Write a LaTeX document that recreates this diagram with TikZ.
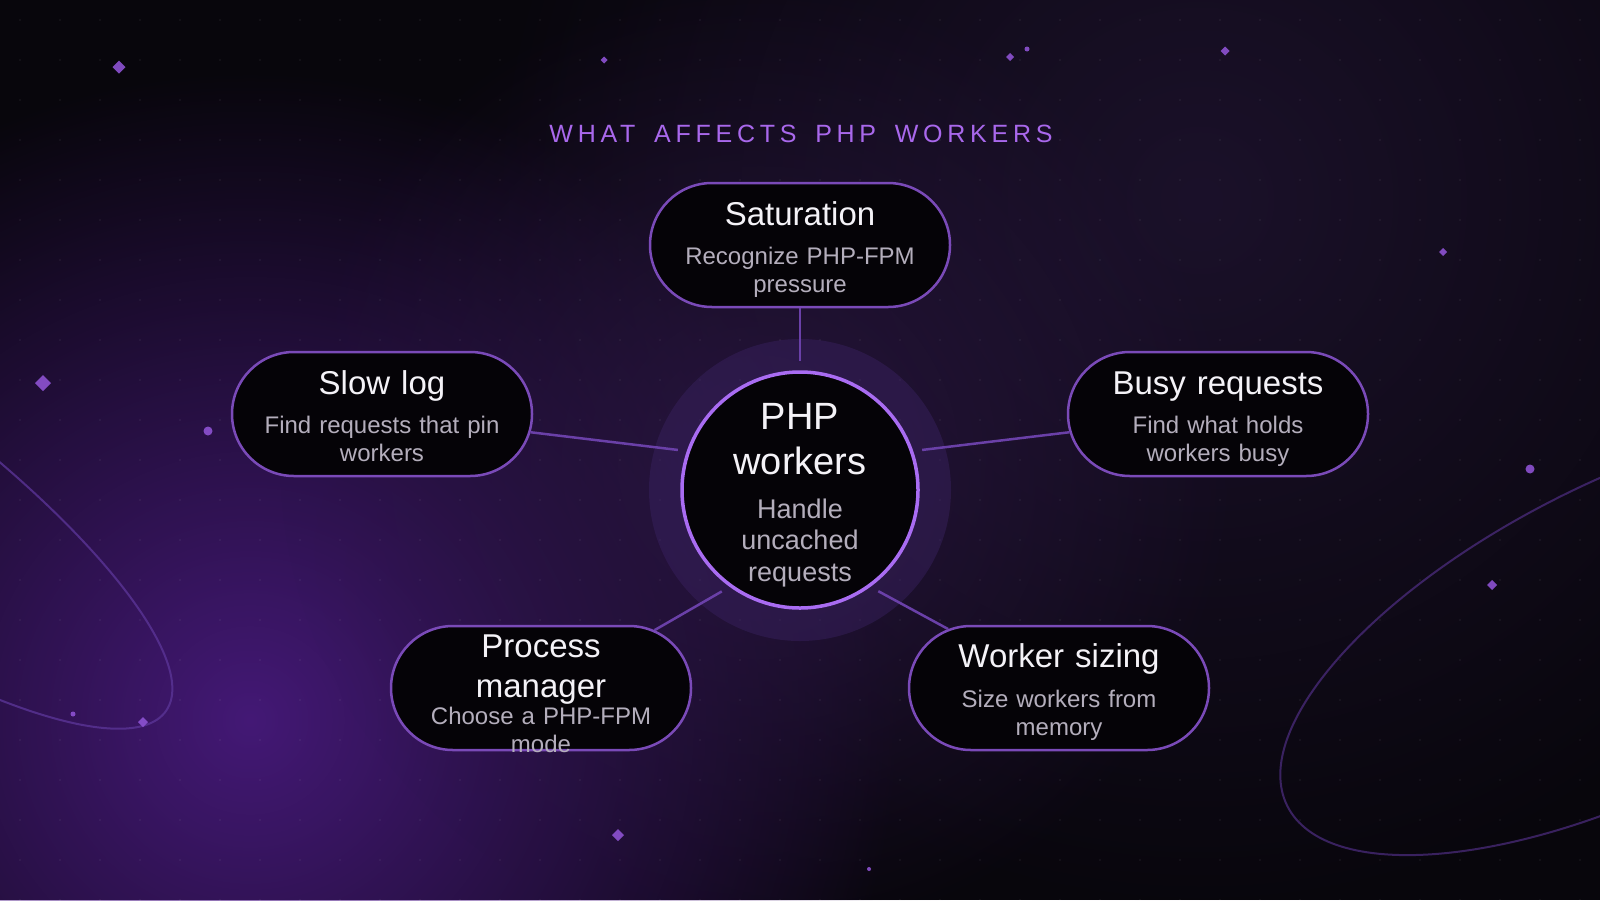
\documentclass[tikz,border=0pt]{standalone}
\usepackage{fontspec}
\setmainfont{Liberation Sans}
\newfontfamily\capsfont[LetterSpace=19,WordSpace=1.6]{Liberation Sans}
\usetikzlibrary{positioning}
\usetikzlibrary{shapes.misc}
\usetikzlibrary{fadings}

\definecolor{bgbase}{HTML}{08060C}
\definecolor{glowviolet}{HTML}{4E1C88}
\definecolor{glowplum}{HTML}{2E1C48}
\definecolor{glowmid}{HTML}{2A1642}
\definecolor{halo}{HTML}{3A2262}
\definecolor{ringviolet}{HTML}{A96CF2}
\definecolor{pillline}{HTML}{7A4AB8}
\definecolor{linkviolet}{HTML}{6A40A8}
\definecolor{pillfill}{HTML}{050307}
\definecolor{headwhite}{HTML}{F4F2F7}
\definecolor{notegray}{HTML}{B4AEBC}
\definecolor{titleviolet}{HTML}{A968EC}
\definecolor{sparkviolet}{HTML}{8D52D2}
\definecolor{orbitviolet}{HTML}{5A3496}

\tikzfading[name=glowfade, inner color=transparent!15, outer color=transparent!100]
\tikzfading[name=glowsoft, inner color=transparent!50, outer color=transparent!100]

\begin{document}
\begin{tikzpicture}[x=1pt, y=-1pt,
        pill/.style={rounded rectangle, draw=pillline, line width=2.5pt, fill=pillfill,
            minimum width=300pt, minimum height=124pt, inner sep=0pt},
        head/.style={anchor=base, text=headwhite, text width=300pt, align=center,
            inner sep=0pt, font=\fontsize{33}{40}\selectfont},
        note/.style={anchor=base, text=notegray, text width=300pt, align=center,
            inner sep=0pt, font=\fontsize{24}{28}\selectfont},
        link/.style={draw=linkviolet, line width=2.5pt, shorten >=9pt},
        spark/.style={fill=sparkviolet, opacity=.9},
        orbit/.style={draw=orbitviolet, line width=2pt, opacity=.8}
    ]
        \useasboundingbox (0,0) rectangle (1600,900);
        \clip (0,0) rectangle (1600,900);

        % backdrop
        \fill[bgbase] (0,0) rectangle (1600,900);
        \fill[glowviolet, path fading=glowfade] (250,720) circle (650pt);
        \fill[glowplum, path fading=glowsoft] (1200,200) circle (720pt);
        \fill[glowmid, path fading=glowfade] (760,460) circle (480pt);
        \foreach \i in {0,...,39}
            \foreach \j in {0,...,22}
                \fill[white, opacity=.06] (20+40*\i,20+40*\j) circle (1.1pt);

        \draw[orbit, rotate around={-35:(-178,470)}] (-178,470) ellipse [x radius=420pt, y radius=115pt];
        \draw[orbit, opacity=.6, rotate around={26.5:(1630,635)}] (1630,635) ellipse [x radius=383pt, y radius=155pt];

        \foreach \x/\y/\s in {119/67/6.5, 604/60/3.5, 1010/57/4, 1225/51/4.5, 1443/252/4,
                43/383/8, 143/722/5, 1492/585/5, 618/835/6}
            \fill[spark] (\x-\s,\y) -- (\x,\y-\s) -- (\x+\s,\y) -- (\x,\y+\s) -- cycle;
        \foreach \x/\y/\r in {1027/49/2.5, 208/431/4.5, 73/714/2.5, 1530/469/4.5, 869/869/2}
            \fill[spark] (\x,\y) circle (\r pt);

        \node[font=\capsfont\fontsize{25}{30}\selectfont, text=titleviolet, anchor=base] (title) at (801,142) {WHAT AFFECTS PHP WORKERS};

        % hub
        \node (halo) [circle, minimum size=302pt, fill=halo, fill opacity=.45] at (800,490) {};
        \node (core) [circle, minimum size=236pt, inner sep=0pt, draw=ringviolet, line width=3.5pt, fill=pillfill] at (halo) {};

        % satellites
        \node (sat) [pill] at (800,245) {};
        \node (slow) [pill] at (382,414) {};
        \node (busy) [pill] at (1218,414) {};
        \node (proc) [pill] at (541,688) {};
        \node (size) [pill] at (1059,688) {};

        \draw[link] (sat) -- (core);
        \draw[link] (slow.-7.2) -- (core.161);
        \draw[link] (busy.187.2) -- (core.19);
        \draw[link] (proc.27.4) -- (core.234);
        \draw[link] (size.152.6) -- (core.306);

        \node[head, font=\fontsize{38}{45}\selectfont] (core-h) at ([yshift=61pt]core.center) {PHP\\workers};
        \node[note, font=\fontsize{27}{31.5}\selectfont] (core-n) at ([yshift=-28pt]core.center) {Handle\\uncached\\requests};

        \node[head] (sat-h) at ([yshift=20pt]sat.center) {Saturation};
        \node[note] (sat-n) at ([yshift=-19pt]sat.center) {Recognize PHP-FPM\\pressure};
        \node[head] (slow-h) at ([yshift=20pt]slow.center) {Slow log};
        \node[note] (slow-n) at ([yshift=-19pt]slow.center) {Find requests that pin\\workers};
        \node[head] (busy-h) at ([yshift=20pt]busy.center) {Busy requests};
        \node[note] (busy-n) at ([yshift=-19pt]busy.center) {Find what holds\\workers busy};
        \node[head] (proc-h) at ([yshift=31pt]proc.center) {Process\\manager};
        \node[note] (proc-n) at ([yshift=-36pt]proc.center) {Choose a PHP-FPM\\mode};
        \node[head] (size-h) at ([yshift=21pt]size.center) {Worker sizing};
        \node[note] (size-n) at ([yshift=-19pt]size.center) {Size workers from\\memory};
    \end{tikzpicture}
\end{document}
